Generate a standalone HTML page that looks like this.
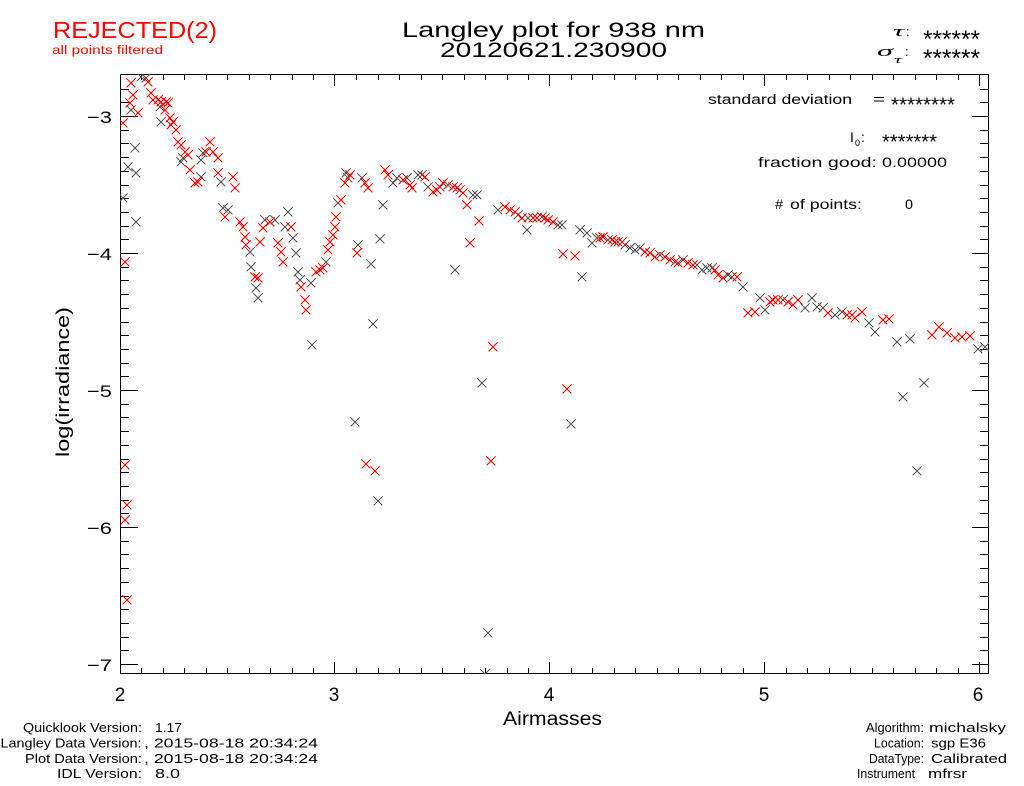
<!DOCTYPE html>
<html><head><meta charset="utf-8"><style>
html,body{margin:0;padding:0;background:#fff;}
svg{display:block;}
text{font-family:"Liberation Sans",sans-serif;}
</style></head><body>
<svg width="1024" height="786" viewBox="0 0 1024 786" xmlns="http://www.w3.org/2000/svg">
<defs>
<path id="m" d="M-4.5 -4.5L4.5 4.5M-4.5 4.5L4.5 -4.5"/>
<clipPath id="pc"><rect x="120" y="74" width="869" height="600"/></clipPath>
</defs>
<rect width="1024" height="786" fill="#fff"/>

<!-- header texts -->
<text x="53" y="38" font-size="23" fill="#f00" textLength="164" lengthAdjust="spacingAndGlyphs">REJECTED(2)</text>
<text x="52" y="54" font-size="11.5" fill="#f00" textLength="111" lengthAdjust="spacingAndGlyphs">all points filtered</text>
<text x="402" y="37" font-size="21" textLength="303" lengthAdjust="spacingAndGlyphs">Langley plot for 938 nm</text>
<text x="440" y="57" font-size="21" textLength="227" lengthAdjust="spacingAndGlyphs">20120621.230900</text>

<text x="893" y="36" font-size="15" font-style="italic" style="font-family:'Liberation Serif',serif" textLength="11" lengthAdjust="spacingAndGlyphs">τ</text>
<text x="906" y="36" font-size="13">:</text>
<text x="923" y="47" font-size="24" textLength="57" lengthAdjust="spacingAndGlyphs">******</text>
<text x="877" y="56" font-size="15" font-style="italic" style="font-family:'Liberation Serif',serif" textLength="16" lengthAdjust="spacingAndGlyphs">σ</text>
<text x="894" y="63" font-size="10" font-style="italic" style="font-family:'Liberation Serif',serif" textLength="8" lengthAdjust="spacingAndGlyphs">τ</text>
<text x="905" y="56" font-size="13">:</text>
<text x="923" y="66" font-size="24" textLength="57" lengthAdjust="spacingAndGlyphs">******</text>

<!-- in-plot texts -->
<text x="708" y="104" font-size="13.5" textLength="144" lengthAdjust="spacingAndGlyphs">standard deviation</text>
<text x="873" y="104" font-size="14" textLength="12" lengthAdjust="spacingAndGlyphs">=</text>
<text x="891" y="111.5" font-size="20" textLength="64" lengthAdjust="spacingAndGlyphs">********</text>
<text x="850" y="142" font-size="14">I</text>
<text x="855" y="146" font-size="9">0</text>
<text x="861" y="142" font-size="14">:</text>
<text x="882" y="148.5" font-size="20" textLength="55" lengthAdjust="spacingAndGlyphs">*******</text>
<text x="758" y="167" font-size="14" textLength="119" lengthAdjust="spacingAndGlyphs">fraction good:</text>
<text x="882" y="167" font-size="14" textLength="65" lengthAdjust="spacingAndGlyphs">0.00000</text>
<text x="775" y="209" font-size="14" textLength="8" lengthAdjust="spacingAndGlyphs">#</text>
<text x="790" y="209" font-size="14" textLength="72" lengthAdjust="spacingAndGlyphs">of points:</text>
<text x="905" y="209" font-size="14" textLength="8" lengthAdjust="spacingAndGlyphs">0</text>

<!-- axes -->
<g stroke="#000" stroke-width="1" fill="none" shape-rendering="crispEdges">
<rect x="120.5" y="74.5" width="868" height="599"/>
<path d="M120 89.5h9M120 102.5h9M120 116.5h18M120 130.5h9M120 143.5h9M120 157.5h9M120 171.5h9M120 185.5h9M120 198.5h9M120 212.5h9M120 226.5h9M120 239.5h9M120 253.5h18M120 267.5h9M120 280.5h9M120 294.5h9M120 308.5h9M120 322.5h9M120 335.5h9M120 349.5h9M120 363.5h9M120 376.5h9M120 390.5h18M120 404.5h9M120 417.5h9M120 431.5h9M120 445.5h9M120 459.5h9M120 472.5h9M120 486.5h9M120 500.5h9M120 513.5h9M120 527.5h18M120 541.5h9M120 554.5h9M120 568.5h9M120 582.5h9M120 596.5h9M120 609.5h9M120 623.5h9M120 637.5h9M120 650.5h9M120 664.5h18"/>
<path d="M989 89.5h-9M989 102.5h-9M989 116.5h-17M989 130.5h-9M989 143.5h-9M989 157.5h-9M989 171.5h-9M989 185.5h-9M989 198.5h-9M989 212.5h-9M989 226.5h-9M989 239.5h-9M989 253.5h-17M989 267.5h-9M989 280.5h-9M989 294.5h-9M989 308.5h-9M989 322.5h-9M989 335.5h-9M989 349.5h-9M989 363.5h-9M989 376.5h-9M989 390.5h-17M989 404.5h-9M989 417.5h-9M989 431.5h-9M989 445.5h-9M989 459.5h-9M989 472.5h-9M989 486.5h-9M989 500.5h-9M989 513.5h-9M989 527.5h-17M989 541.5h-9M989 554.5h-9M989 568.5h-9M989 582.5h-9M989 596.5h-9M989 609.5h-9M989 623.5h-9M989 637.5h-9M989 650.5h-9M989 664.5h-17"/>
<path d="M141.5 674v-6M163.5 674v-6M184.5 674v-6M206.5 674v-6M227.5 674v-6M249.5 674v-6M270.5 674v-6M292.5 674v-6M313.5 674v-6M334.5 674v-12M356.5 674v-6M378.5 674v-6M399.5 674v-6M421.5 674v-6M442.5 674v-6M464.5 674v-6M485.5 674v-6M507.5 674v-6M528.5 674v-6M549.5 674v-12M571.5 674v-6M592.5 674v-6M614.5 674v-6M635.5 674v-6M657.5 674v-6M678.5 674v-6M700.5 674v-6M721.5 674v-6M743.5 674v-6M764.5 674v-12M786.5 674v-6M807.5 674v-6M829.5 674v-6M850.5 674v-6M872.5 674v-6M893.5 674v-6M915.5 674v-6M936.5 674v-6M958.5 674v-6M979.5 674v-12"/>
<path d="M141.5 74v6M163.5 74v6M184.5 74v6M206.5 74v6M227.5 74v6M249.5 74v6M270.5 74v6M292.5 74v6M313.5 74v6M334.5 74v12M356.5 74v6M378.5 74v6M399.5 74v6M421.5 74v6M442.5 74v6M464.5 74v6M485.5 74v6M507.5 74v6M528.5 74v6M549.5 74v12M571.5 74v6M592.5 74v6M614.5 74v6M635.5 74v6M657.5 74v6M678.5 74v6M700.5 74v6M721.5 74v6M743.5 74v6M764.5 74v12M786.5 74v6M807.5 74v6M829.5 74v6M850.5 74v6M872.5 74v6M893.5 74v6M915.5 74v6M936.5 74v6M958.5 74v6M979.5 74v12"/>
</g>

<!-- tick labels -->
<g font-size="17">
<text x="87" y="123" textLength="25" lengthAdjust="spacingAndGlyphs">−3</text>
<text x="87" y="260" textLength="25" lengthAdjust="spacingAndGlyphs">−4</text>
<text x="87" y="397" textLength="25" lengthAdjust="spacingAndGlyphs">−5</text>
<text x="87" y="534" textLength="25" lengthAdjust="spacingAndGlyphs">−6</text>
<text x="87" y="671" textLength="25" lengthAdjust="spacingAndGlyphs">−7</text>
</g>
<g font-size="19" text-anchor="middle">
<text x="120" y="701">2</text>
<text x="334" y="701">3</text>
<text x="549" y="701">4</text>
<text x="764" y="701">5</text>
<text x="978" y="701">6</text>
</g>
<text x="503" y="725" font-size="19" textLength="99" lengthAdjust="spacingAndGlyphs">Airmasses</text>
<text transform="translate(69,382) rotate(-90)" text-anchor="middle" font-size="18" textLength="150" lengthAdjust="spacingAndGlyphs">log(irradiance)</text>

<!-- footer -->
<g font-size="12.5">
<text x="23" y="732" textLength="119" lengthAdjust="spacingAndGlyphs">Quicklook Version:</text>
<text x="155" y="732" textLength="27" lengthAdjust="spacingAndGlyphs">1.17</text>
<text x="0.5" y="747.5" textLength="141" lengthAdjust="spacingAndGlyphs">Langley Data Version:</text>
<text x="144" y="747.5" textLength="174" lengthAdjust="spacingAndGlyphs">, 2015-08-18 20:34:24</text>
<text x="25" y="763" textLength="117" lengthAdjust="spacingAndGlyphs">Plot Data Version:</text>
<text x="144" y="763" textLength="174" lengthAdjust="spacingAndGlyphs">, 2015-08-18 20:34:24</text>
<text x="57" y="778" textLength="85" lengthAdjust="spacingAndGlyphs">IDL Version:</text>
<text x="155" y="778" textLength="25" lengthAdjust="spacingAndGlyphs">8.0</text>

<text x="866" y="732" textLength="58" lengthAdjust="spacingAndGlyphs">Algorithm:</text>
<text x="929" y="732" textLength="77" lengthAdjust="spacingAndGlyphs">michalsky</text>
<text x="874" y="747.5" textLength="50" lengthAdjust="spacingAndGlyphs">Location:</text>
<text x="931" y="747.5" textLength="55" lengthAdjust="spacingAndGlyphs">sgp E36</text>
<text x="869" y="763" textLength="55" lengthAdjust="spacingAndGlyphs">DataType:</text>
<text x="931" y="763" textLength="76" lengthAdjust="spacingAndGlyphs">Calibrated</text>
<text x="857" y="778" textLength="58" lengthAdjust="spacingAndGlyphs">Instrument</text>
<text x="928" y="778" textLength="39" lengthAdjust="spacingAndGlyphs">mfrsr</text>
</g>

<!-- data -->
<g clip-path="url(#pc)" fill="none" stroke-width="1" shape-rendering="crispEdges">
<g stroke="#555">
<use href="#m" x="131" y="110"/><use href="#m" x="135" y="148"/><use href="#m" x="128" y="167"/><use href="#m" x="136" y="173"/><use href="#m" x="123" y="198"/><use href="#m" x="136" y="222"/><use href="#m" x="141" y="77"/><use href="#m" x="146" y="78"/><use href="#m" x="160" y="107"/><use href="#m" x="161" y="122"/><use href="#m" x="183" y="158"/><use href="#m" x="181" y="162"/><use href="#m" x="201" y="177"/><use href="#m" x="201" y="160"/><use href="#m" x="203" y="153"/><use href="#m" x="221" y="182"/><use href="#m" x="223" y="208"/><use href="#m" x="228" y="210"/><use href="#m" x="250" y="252"/><use href="#m" x="251" y="267"/><use href="#m" x="256" y="288"/><use href="#m" x="258" y="298"/><use href="#m" x="265" y="220"/><use href="#m" x="275" y="220"/><use href="#m" x="288" y="212"/><use href="#m" x="285" y="227"/><use href="#m" x="293" y="238"/><use href="#m" x="296" y="253"/><use href="#m" x="298" y="272"/><use href="#m" x="300" y="280"/><use href="#m" x="311" y="283"/><use href="#m" x="326" y="262"/><use href="#m" x="338" y="203"/><use href="#m" x="346" y="173"/><use href="#m" x="312" y="345"/><use href="#m" x="348" y="178"/><use href="#m" x="362" y="178"/><use href="#m" x="358" y="245"/><use href="#m" x="371" y="264"/><use href="#m" x="373" y="324"/><use href="#m" x="355" y="422"/><use href="#m" x="378" y="501"/><use href="#m" x="383" y="205"/><use href="#m" x="380" y="239"/><use href="#m" x="393" y="183"/><use href="#m" x="397" y="178"/><use href="#m" x="407" y="178"/><use href="#m" x="418" y="175"/><use href="#m" x="422" y="175"/><use href="#m" x="428" y="187"/><use href="#m" x="440" y="187"/><use href="#m" x="448" y="185"/><use href="#m" x="460" y="190"/><use href="#m" x="473" y="195"/><use href="#m" x="477" y="195"/><use href="#m" x="455" y="270"/><use href="#m" x="482" y="383"/><use href="#m" x="488" y="633"/><use href="#m" x="485" y="674"/><use href="#m" x="498" y="210"/><use href="#m" x="518" y="215"/><use href="#m" x="528" y="218"/><use href="#m" x="542" y="217"/><use href="#m" x="558" y="225"/><use href="#m" x="527" y="230"/><use href="#m" x="562" y="225"/><use href="#m" x="582" y="277"/><use href="#m" x="571" y="424"/><use href="#m" x="580" y="230"/><use href="#m" x="587" y="233"/><use href="#m" x="592" y="243"/><use href="#m" x="597" y="238"/><use href="#m" x="608" y="240"/><use href="#m" x="618" y="242"/><use href="#m" x="625" y="245"/><use href="#m" x="630" y="248"/><use href="#m" x="635" y="250"/><use href="#m" x="640" y="248"/><use href="#m" x="660" y="255"/><use href="#m" x="675" y="262"/><use href="#m" x="683" y="260"/><use href="#m" x="697" y="265"/><use href="#m" x="702" y="270"/><use href="#m" x="707" y="268"/><use href="#m" x="712" y="268"/><use href="#m" x="728" y="275"/><use href="#m" x="732" y="277"/><use href="#m" x="743" y="287"/><use href="#m" x="760" y="298"/><use href="#m" x="765" y="310"/><use href="#m" x="783" y="300"/><use href="#m" x="805" y="308"/><use href="#m" x="812" y="298"/><use href="#m" x="817" y="307"/><use href="#m" x="823" y="308"/><use href="#m" x="835" y="315"/><use href="#m" x="842" y="312"/><use href="#m" x="869" y="323"/><use href="#m" x="875" y="332"/><use href="#m" x="897" y="342"/><use href="#m" x="910" y="339"/><use href="#m" x="978" y="349"/><use href="#m" x="985" y="347"/><use href="#m" x="924" y="383"/><use href="#m" x="903" y="397"/><use href="#m" x="917" y="471"/>
</g>
<g stroke="#f00">
<use href="#m" x="123" y="123"/><use href="#m" x="131" y="83"/><use href="#m" x="133" y="95"/><use href="#m" x="130" y="103"/><use href="#m" x="138" y="113"/><use href="#m" x="148" y="82"/><use href="#m" x="151" y="93"/><use href="#m" x="153" y="100"/><use href="#m" x="158" y="100"/><use href="#m" x="161" y="102"/><use href="#m" x="166" y="102"/><use href="#m" x="168" y="103"/><use href="#m" x="165" y="110"/><use href="#m" x="170" y="118"/><use href="#m" x="173" y="122"/><use href="#m" x="171" y="125"/><use href="#m" x="176" y="130"/><use href="#m" x="178" y="142"/><use href="#m" x="181" y="145"/><use href="#m" x="185" y="152"/><use href="#m" x="188" y="155"/><use href="#m" x="190" y="170"/><use href="#m" x="195" y="183"/><use href="#m" x="198" y="182"/><use href="#m" x="206" y="152"/><use href="#m" x="210" y="142"/><use href="#m" x="213" y="152"/><use href="#m" x="218" y="158"/><use href="#m" x="218" y="173"/><use href="#m" x="233" y="177"/><use href="#m" x="235" y="188"/><use href="#m" x="225" y="217"/><use href="#m" x="240" y="222"/><use href="#m" x="243" y="227"/><use href="#m" x="245" y="237"/><use href="#m" x="246" y="245"/><use href="#m" x="255" y="277"/><use href="#m" x="258" y="278"/><use href="#m" x="260" y="242"/><use href="#m" x="270" y="222"/><use href="#m" x="263" y="228"/><use href="#m" x="278" y="243"/><use href="#m" x="281" y="252"/><use href="#m" x="283" y="262"/><use href="#m" x="291" y="227"/><use href="#m" x="301" y="287"/><use href="#m" x="305" y="300"/><use href="#m" x="306" y="310"/><use href="#m" x="316" y="272"/><use href="#m" x="320" y="270"/><use href="#m" x="323" y="268"/><use href="#m" x="328" y="250"/><use href="#m" x="330" y="242"/><use href="#m" x="333" y="235"/><use href="#m" x="335" y="227"/><use href="#m" x="336" y="217"/><use href="#m" x="341" y="200"/><use href="#m" x="345" y="183"/><use href="#m" x="350" y="175"/><use href="#m" x="365" y="183"/><use href="#m" x="368" y="188"/><use href="#m" x="357" y="253"/><use href="#m" x="366" y="464"/><use href="#m" x="375" y="471"/><use href="#m" x="385" y="170"/><use href="#m" x="388" y="175"/><use href="#m" x="403" y="180"/><use href="#m" x="410" y="185"/><use href="#m" x="412" y="188"/><use href="#m" x="425" y="177"/><use href="#m" x="433" y="192"/><use href="#m" x="437" y="190"/><use href="#m" x="443" y="183"/><use href="#m" x="453" y="187"/><use href="#m" x="457" y="188"/><use href="#m" x="463" y="193"/><use href="#m" x="467" y="205"/><use href="#m" x="479" y="221"/><use href="#m" x="470" y="243"/><use href="#m" x="491" y="461"/><use href="#m" x="493" y="347"/><use href="#m" x="505" y="207"/><use href="#m" x="510" y="210"/><use href="#m" x="515" y="212"/><use href="#m" x="522" y="218"/><use href="#m" x="533" y="218"/><use href="#m" x="537" y="218"/><use href="#m" x="545" y="218"/><use href="#m" x="548" y="220"/><use href="#m" x="553" y="222"/><use href="#m" x="563" y="254"/><use href="#m" x="575" y="256"/><use href="#m" x="567" y="389"/><use href="#m" x="600" y="238"/><use href="#m" x="603" y="237"/><use href="#m" x="612" y="240"/><use href="#m" x="615" y="242"/><use href="#m" x="622" y="242"/><use href="#m" x="645" y="252"/><use href="#m" x="650" y="253"/><use href="#m" x="655" y="257"/><use href="#m" x="665" y="257"/><use href="#m" x="670" y="260"/><use href="#m" x="678" y="263"/><use href="#m" x="688" y="263"/><use href="#m" x="693" y="265"/><use href="#m" x="715" y="270"/><use href="#m" x="718" y="275"/><use href="#m" x="723" y="278"/><use href="#m" x="737" y="277"/><use href="#m" x="748" y="313"/><use href="#m" x="755" y="312"/><use href="#m" x="770" y="302"/><use href="#m" x="773" y="300"/><use href="#m" x="778" y="300"/><use href="#m" x="788" y="302"/><use href="#m" x="793" y="305"/><use href="#m" x="798" y="300"/><use href="#m" x="828" y="313"/><use href="#m" x="847" y="315"/><use href="#m" x="852" y="315"/><use href="#m" x="855" y="318"/><use href="#m" x="862" y="312"/><use href="#m" x="883" y="320"/><use href="#m" x="889" y="319"/><use href="#m" x="932" y="335"/><use href="#m" x="939" y="327"/><use href="#m" x="947" y="333"/><use href="#m" x="955" y="338"/><use href="#m" x="962" y="337"/><use href="#m" x="970" y="336"/><use href="#m" x="125" y="262"/><use href="#m" x="125" y="465"/><use href="#m" x="127" y="505"/><use href="#m" x="125" y="520"/><use href="#m" x="127" y="600"/>
</g>
</g>
</svg>
</body></html>
